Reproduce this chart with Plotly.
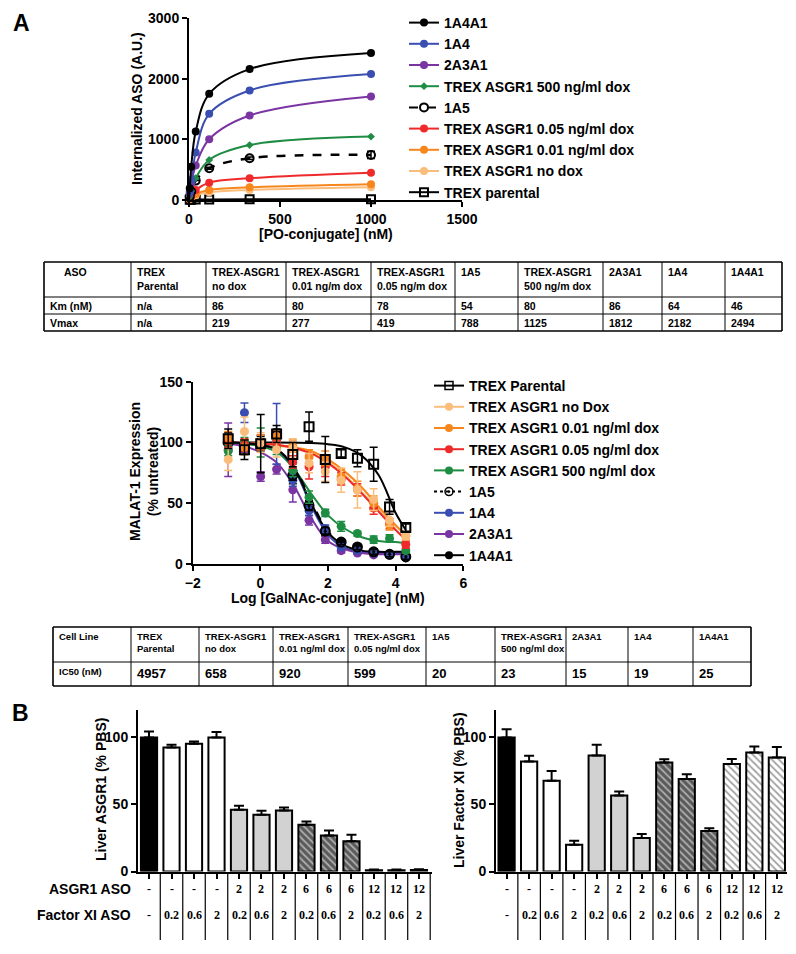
import plotly.graph_objects as go

# figure is drawn 8px smaller than the window on each side (page body margin)
W, H = 780, 938
OFF = 8
def X(p): return (p - OFF) / W
def Y(p): return 1 - (p - OFF) / H

FONT = "Arial, Liberation Sans, sans-serif"
NARROW = "Liberation Sans Narrow, Arial Narrow, Arial, Liberation Sans, sans-serif"
SERIF = "Liberation Serif, Times New Roman, serif"

# ---------------- Panel A top: uptake ----------------
top_x = [4.1, 12.3, 37, 111, 333, 1000]
top_names = ["1A4A1", "1A4", "2A3A1", "TREX ASGR1 500 ng/ml dox", "1A5",
             "TREX ASGR1 0.05 ng/ml dox", "TREX ASGR1 0.01 ng/ml dox",
             "TREX ASGR1 no dox", "TREX parental"]
top_1A4A1 = [193, 550, 1128, 1750, 2158, 2422]
top_1A4 = [138, 330, 782, 1420, 1806, 2075]
top_2A3A1 = [110, 275, 567, 1002, 1393, 1707]
top_dox500 = [60, 150, 360, 660, 905, 1046]
top_1A5 = [52, 140, 320, 523, 688, 743]
top_dox005 = [33, 83, 165, 286, 358, 450]
top_dox001 = [22, 55, 99, 165, 209, 260]
top_nodox = [17, 44, 77, 127, 165, 209]
top_parental = [3, 5, 8, 10, 12, 12]
top_err_1A5 = [0, 0, 0, 15, 20, 60]

# ---------------- Panel A middle: MALAT-1 ----------------
mid_x = [-0.95, -0.47, 0.01, 0.48, 0.96, 1.44, 1.92, 2.39, 2.87, 3.35, 3.82, 4.30]
fit_x = [-1, -0.5, 0, 0.5, 1, 1.5, 2, 2.5, 3, 3.5, 4, 4.3]
mid_names = ["TREX Parental", "TREX ASGR1 no Dox", "TREX ASGR1 0.01 ng/ml dox",
             "TREX ASGR1 0.05 ng/ml dox", "TREX ASGR1 500 ng/ml dox", "1A5", "1A4",
             "2A3A1", "1A4A1"]
mid_parental = [103, 94, 99, 107, 90, 113, 86, 91, 87, 82, 47, 30]
err_parental = [8, 8, 24, 7, 10, 12, 19, 3, 7, 14, 6, 3]
mid_nodox = [86, 109, 100, 94, 95, 83, 76, 69, 61, 53, 36, 23]
err_nodox = [9, 12, 8, 6, 8, 8, 8, 10, 15, 9, 5, 3]
mid_dox001 = [104, 96, 100, 105, 97, 88, 87, 72, 62, 50, 32, 23]
err_dox001 = [5, 6, 6, 5, 5, 6, 6, 6, 6, 6, 4, 3]
mid_dox005 = [101, 98, 100, 100, 84, 80, 80, 70, 61, 46, 33, 16]
err_dox005 = [5, 5, 6, 5, 5, 10, 8, 5, 5, 5, 4, 3]
mid_dox500 = [93, 100, 100, 95, 77, 55, 42, 31, 25, 20, 21, 11]
err_dox500 = [4, 4, 12, 5, 5, 5, 3, 4, 2, 3, 3, 2]
mid_1A5 = [100, 98, 98, 106, 73, 48, 27, 18, 14, 10, 8, 6]
err_1A5 = [4, 4, 5, 4, 4, 4, 3, 2, 2, 2, 2, 2]
mid_1A4 = [102, 124.5, 100, 107, 69, 44, 29, 14, 11, 9, 8, 6.5]
err_1A4 = [5, 8, 6, 25, 5, 4, 3, 2, 2, 1, 1, 1]
mid_2A3A1 = [94, 97, 72, 78, 61, 36, 20, 11, 9, 7.5, 7.5, 6]
err_2A3A1 = [22, 5, 4, 4, 10, 4, 3, 2, 1, 1, 1, 1]
mid_1A4A1 = [103, 95, 100, 106, 72, 50, 25, 18, 14, 10, 7.5, 5]
err_1A4A1 = [5, 5, 5, 5, 6, 4, 2, 2, 2, 2, 1, 1]

fit_parental = [100, 100, 100, 100, 99.8, 99.5, 98.5, 96, 89, 73, 42, 28]
fit_nodox = [99, 98.5, 98, 97, 95, 91, 84, 73, 59, 45, 31, 24]
fit_dox001 = [100, 99.5, 99, 98, 96, 93, 86, 76, 63, 47, 32, 24]
fit_dox005 = [100, 99.5, 99, 98, 95.5, 91, 83, 72, 58, 43, 28, 20]
fit_dox500 = [100, 99, 97, 92, 78, 58, 40, 29, 22, 19, 18, 17]
fit_1A5 = [100, 99.5, 98, 94, 80, 52, 27, 15, 11, 10, 9.5, 9.5]
fit_1A4 = [100, 99.5, 98, 94, 78, 48, 24, 13, 10, 9, 9, 9]
fit_2A3A1 = [99, 97, 92, 83, 64, 38, 19, 12, 9, 8, 8, 8]
fit_1A4A1 = [100, 99.5, 98, 94, 79, 50, 26, 15, 11, 10, 10, 10]

# ---------------- Tables ----------------
t1_header = ["ASO", "TREX<br>Parental", "TREX-ASGR1<br>no dox", "TREX-ASGR1<br>0.01 ng/m dox",
             "TREX-ASGR1<br>0.05 ng/m dox", "1A5", "TREX-ASGR1<br>500 ng/m dox", "2A3A1", "1A4", "1A4A1"]
t1_km = ["Km (nM)", "n/a", "86", "80", "78", "54", "80", "86", "64", "46"]
t1_vmax = ["Vmax", "n/a", "219", "277", "419", "788", "1125", "1812", "2182", "2494"]

t2_header = ["Cell Line", "TREX<br>Parental", "TREX-ASGR1<br>no dox", "TREX-ASGR1<br>0.01 ng/ml dox",
             "TREX-ASGR1<br>0.05 ng/ml dox", "1A5", "TREX-ASGR1<br>500 ng/ml dox", "2A3A1", "1A4", "1A4A1"]
t2_ic50 = ["IC50 (nM)", "4957", "658", "920", "599", "20", "23", "15", "19", "25"]

# ---------------- Panel B ----------------
b_cats = list(range(13))
asgr1_aso = ["-", "-", "-", "-", "2", "2", "2", "6", "6", "6", "12", "12", "12"]
fxi_aso = ["-", "0.2", "0.6", "2", "0.2", "0.6", "2", "0.2", "0.6", "2", "0.2", "0.6", "2"]
left_vals = [100, 92.5, 95.3, 100, 46, 42.3, 45.5, 34.8, 26.9, 22.6, 1, 1, 1.2]
left_err = [4.5, 2, 1.7, 4, 3, 3, 2.3, 2.5, 3.7, 4.8, 0.5, 0.5, 0.5]
right_vals = [100, 82, 67.7, 20, 86.6, 56.7, 25, 81.3, 69, 30.3, 80.3, 88.8, 85]
right_err = [6.2, 4.3, 7.3, 3, 7.9, 3, 2.9, 2.5, 3.6, 2, 3.7, 4.5, 7.8]

bar_bg = ["#000000", "#ffffff", "#ffffff", "#ffffff", "#d2d2d2", "#d2d2d2", "#d2d2d2",
          "#5a5a5a", "#5a5a5a", "#5a5a5a", "#ffffff", "#ffffff", "#ffffff"]
bar_fg = ["#000000"] * 7 + ["#1a1a1a"] * 3 + ["#444444"] * 3
bar_shape = [""] * 7 + ["\\"] * 6

fig = go.Figure()

# ---- top chart traces ----
top_series = [top_1A4A1, top_1A4, top_2A3A1, top_dox500, top_1A5, top_dox005, top_dox001, top_nodox, top_parental]
top_colors = ["#000000", "#3a4db0", "#7a35a3", "#1e8c42", "#000000", "#ee2a2a", "#f7861c", "#fbbd7c", "#000000"]
top_symbols = ["circle", "circle", "circle", "diamond", "circle-open", "circle", "circle", "circle", "square-open"]
top_dash = ["solid"] * 4 + ["dash"] + ["solid"] * 4

for i in reversed(range(len(top_series))):
    ys = top_series[i]
    fig.add_trace(go.Scatter(x=[0] + top_x, y=[0] + ys, mode="lines", line_shape="spline",
                             line=dict(color=top_colors[i], width=2 if top_dash[i] == "solid" else 2.5, dash=top_dash[i]),
                             showlegend=False, xaxis="x", yaxis="y", hoverinfo="skip"))
    msize = 6 if top_symbols[i] == "diamond" else 8
    err = dict(type="data", array=top_err_1A5, color="#000000", thickness=1.5, width=4) if top_names[i] == "1A5" else None
    fig.add_trace(go.Scatter(x=top_x, y=ys, mode="markers", cliponaxis=False,
                             marker=dict(symbol=top_symbols[i], size=msize, color=top_colors[i],
                                         line=dict(color=top_colors[i], width=2 if "open" in top_symbols[i] else 0)),
                             error_y=err, showlegend=False, xaxis="x", yaxis="y"))
for i in range(len(top_series)):
    fig.add_trace(go.Scatter(x=[None], y=[None], mode="lines+markers", name=top_names[i],
                             line=dict(color=top_colors[i], width=2, dash=top_dash[i]),
                             marker=dict(symbol=top_symbols[i], size=6 if top_symbols[i] == "diamond" else 8,
                                         color=top_colors[i],
                                         line=dict(color=top_colors[i], width=2 if "open" in top_symbols[i] else 0)),
                             legend="legend", xaxis="x", yaxis="y"))

# ---- middle chart traces ----
mid_series = [mid_parental, mid_nodox, mid_dox001, mid_dox005, mid_dox500, mid_1A5, mid_1A4, mid_2A3A1, mid_1A4A1]
mid_errs = [err_parental, err_nodox, err_dox001, err_dox005, err_dox500, err_1A5, err_1A4, err_2A3A1, err_1A4A1]
mid_fits = [fit_parental, fit_nodox, fit_dox001, fit_dox005, fit_dox500, fit_1A5, fit_1A4, fit_2A3A1, fit_1A4A1]
mid_colors = ["#000000", "#fbbd7c", "#f7861c", "#ee2a2a", "#1e8c42", "#000000", "#3a4db0", "#7a35a3", "#000000"]
mid_symbols = ["square-open", "circle", "circle", "circle", "circle", "circle-open-dot", "circle", "circle", "circle"]
mid_dash = ["solid"] * 5 + ["dash"] + ["solid"] * 3

for i in range(len(mid_series)):
    fig.add_trace(go.Scatter(x=fit_x, y=mid_fits[i], mode="lines", line_shape="spline",
                             line=dict(color=mid_colors[i], width=2, dash=mid_dash[i]),
                             showlegend=False, xaxis="x2", yaxis="y2", hoverinfo="skip"))
for i in reversed(range(len(mid_series))):
    fig.add_trace(go.Scatter(x=mid_x, y=mid_series[i], mode="markers", cliponaxis=False,
                             marker=dict(symbol=mid_symbols[i], size=9, color=mid_colors[i],
                                         line=dict(color=mid_colors[i], width=2 if "open" in mid_symbols[i] else 0)),
                             error_y=dict(type="data", array=mid_errs[i], color=mid_colors[i], thickness=1.5, width=4),
                             showlegend=False, xaxis="x2", yaxis="y2"))
for i in range(len(mid_series)):
    fig.add_trace(go.Scatter(x=[None], y=[None], mode="lines+markers", name=mid_names[i],
                             line=dict(color=mid_colors[i], width=2, dash="dot" if mid_dash[i] == "dash" else "solid"),
                             marker=dict(symbol=mid_symbols[i], size=8, color=mid_colors[i],
                                         line=dict(color=mid_colors[i], width=1.5 if "open" in mid_symbols[i] else 0)),
                             legend="legend2", xaxis="x2", yaxis="y2"))

# ---- panel B bars ----
for vals, errs, xa, ya in [(left_vals, left_err, "x3", "y3"), (right_vals, right_err, "x4", "y4")]:
    fig.add_trace(go.Bar(x=b_cats, y=vals, xaxis=xa, yaxis=ya, showlegend=False,
                         marker=dict(color=bar_bg, line=dict(color="black", width=2),
                                     pattern=dict(shape=bar_shape, fgcolor=bar_fg, bgcolor=bar_bg,
                                                  size=5, solidity=0.35)),
                         error_y=dict(type="data", symmetric=False, array=errs, arrayminus=[0] * 13,
                                      color="black", thickness=2, width=5)))

tickfont = dict(family=FONT, size=14, color="black", weight="bold")
ax = dict(showline=True, linecolor="black", linewidth=2, ticks="outside", ticklen=5, tickwidth=2,
          tickcolor="black", showgrid=False, zeroline=False, tickfont=tickfont, automargin=False)

annotations = []
shapes = []
def ann(x, y, text, size=14, angle=0, xanchor="center", family=FONT, weight="bold", xref="paper",
        yanchor="middle", align="center"):
    annotations.append(dict(x=x, y=y, xref=xref, yref="paper", text=text, showarrow=False,
                            textangle=angle, xanchor=xanchor, yanchor=yanchor, align=align,
                            font=dict(family=family, size=size, color="black", weight=weight)))

def hline(x0, x1, y, w=1):
    shapes.append(dict(type="line", xref="paper", yref="paper", x0=X(x0), x1=X(x1), y0=Y(y), y1=Y(y),
                       line=dict(color="black", width=w)))
def vline(x, y0, y1, w=1):
    shapes.append(dict(type="line", xref="paper", yref="paper", x0=X(x), x1=X(x), y0=Y(y0), y1=Y(y1),
                       line=dict(color="black", width=w)))

# table builder (column edges / row edges are layout positions)
def table(cols, rows, row_y, texts, sizes, first_pad=4):
    left, right = cols[0], cols[-1]
    for k, y in enumerate(rows):
        hline(left, right, y, 1.6 if k in (0, len(rows) - 1) else 1)
    for k, x in enumerate(cols):
        vline(x, rows[0], rows[-1], 1.6 if k in (0, len(cols) - 1) else 1)
    for r, rowtexts in enumerate(texts):
        for c, t in enumerate(rowtexts):
            pad = first_pad if (r == 0 and c == 0) else 4
            ann(X(cols[c] + pad), Y(row_y[r]), t, size=sizes[r][c], xanchor="left", family=NARROW,
                yanchor="top", align="left")

t1_cols = [44, 131, 206, 286, 371, 455, 518, 603, 662, 725, 782]
table(t1_cols, [262, 297, 314, 331], [264, 298, 315],
      [t1_header, t1_km, t1_vmax],
      [[10.5] * 10, [10.5] * 10, [10.5] * 10], first_pad=18)
t2_cols = [53, 131, 199, 273, 348, 426, 495, 566, 628, 693, 751]
table(t2_cols, [627, 662, 686], [629, 664],
      [t2_header, t2_ic50],
      [[9.5] * 10, [9.5] + [13] * 9])

ann(X(22), Y(8), "A", size=23, family=FONT, yanchor="top")
ann(X(20), Y(713), "B", size=23, family=FONT)
ann(X(137), Y(109), "Internalized ASO (A.U.)", angle=-90)
ann(X(325.5), Y(234), "[PO-conjugate] (nM)")
ann(X(144), Y(472), "MALAT-1 Expression<br>(% untreated)", angle=-90)
ann(X(328), Y(598), "Log [GalNAc-conjugate] (nM)")
ann(X(101), Y(790), "Liver ASGR1 (% PBS)", angle=-90)
ann(X(459), Y(790), "Liver Factor XI (% PBS)", angle=-90)
ann(X(133), Y(889), "ASGR1 ASO", xanchor="right")
ann(X(133), Y(915), "Factor XI ASO", xanchor="right")

for xa in ["x3", "x4"]:
    for k in b_cats:
        ann(k, Y(889), asgr1_aso[k], size=12, family=SERIF, xref=xa)
        ann(k, Y(915), fxi_aso[k], size=12, family=SERIF, xref=xa)
        shapes.append(dict(type="line", xref=xa, yref="paper", x0=k + 0.5, x1=k + 0.5,
                           y0=Y(872), y1=Y(940), line=dict(color="black", width=1.2)))

fig.update_layout(
    width=W, height=H, margin=dict(l=0, r=0, t=0, b=0, autoexpand=False),
    paper_bgcolor="white", plot_bgcolor="white",
    xaxis=dict(ax, domain=[X(189), X(462)], range=[0, 1500], tickvals=[0, 500, 1000, 1500], anchor="y"),
    yaxis=dict(ax, domain=[Y(200), Y(18)], range=[0, 3000], tickvals=[0, 1000, 2000, 3000], anchor="x"),
    xaxis2=dict(ax, domain=[X(192.7), X(463.3)], range=[-2, 6], tickvals=[-2, 0, 2, 4, 6], anchor="y2"),
    yaxis2=dict(ax, domain=[Y(564), Y(381.7)], range=[0, 150], tickvals=[0, 50, 100, 150], anchor="x2"),
    xaxis3=dict(ax, domain=[X(138), X(432)], range=[-0.49, 12.58], tickvals=b_cats, showticklabels=False, anchor="y3"),
    yaxis3=dict(ax, domain=[Y(871.5), Y(710)], range=[0, 120.5], tickvals=[0, 50, 100], anchor="x3"),
    xaxis4=dict(ax, domain=[X(496), X(787)], range=[-0.47, 12.45], tickvals=b_cats, showticklabels=False, anchor="y4"),
    yaxis4=dict(ax, domain=[Y(871.5), Y(710)], range=[0, 120.5], tickvals=[0, 50, 100], anchor="x4"),
    bargap=0.28,
    legend=dict(x=X(404), y=Y(7), xanchor="left", yanchor="top", bgcolor="rgba(0,0,0,0)",
                font=dict(family=FONT, size=14, color="black", weight="bold"), itemwidth=30),
    legend2=dict(x=X(429), y=Y(370), xanchor="left", yanchor="top", bgcolor="rgba(0,0,0,0)",
                 font=dict(family=FONT, size=14, color="black", weight="bold"), itemwidth=30),
    annotations=annotations, shapes=shapes,
)

fig.write_html("out.html")
